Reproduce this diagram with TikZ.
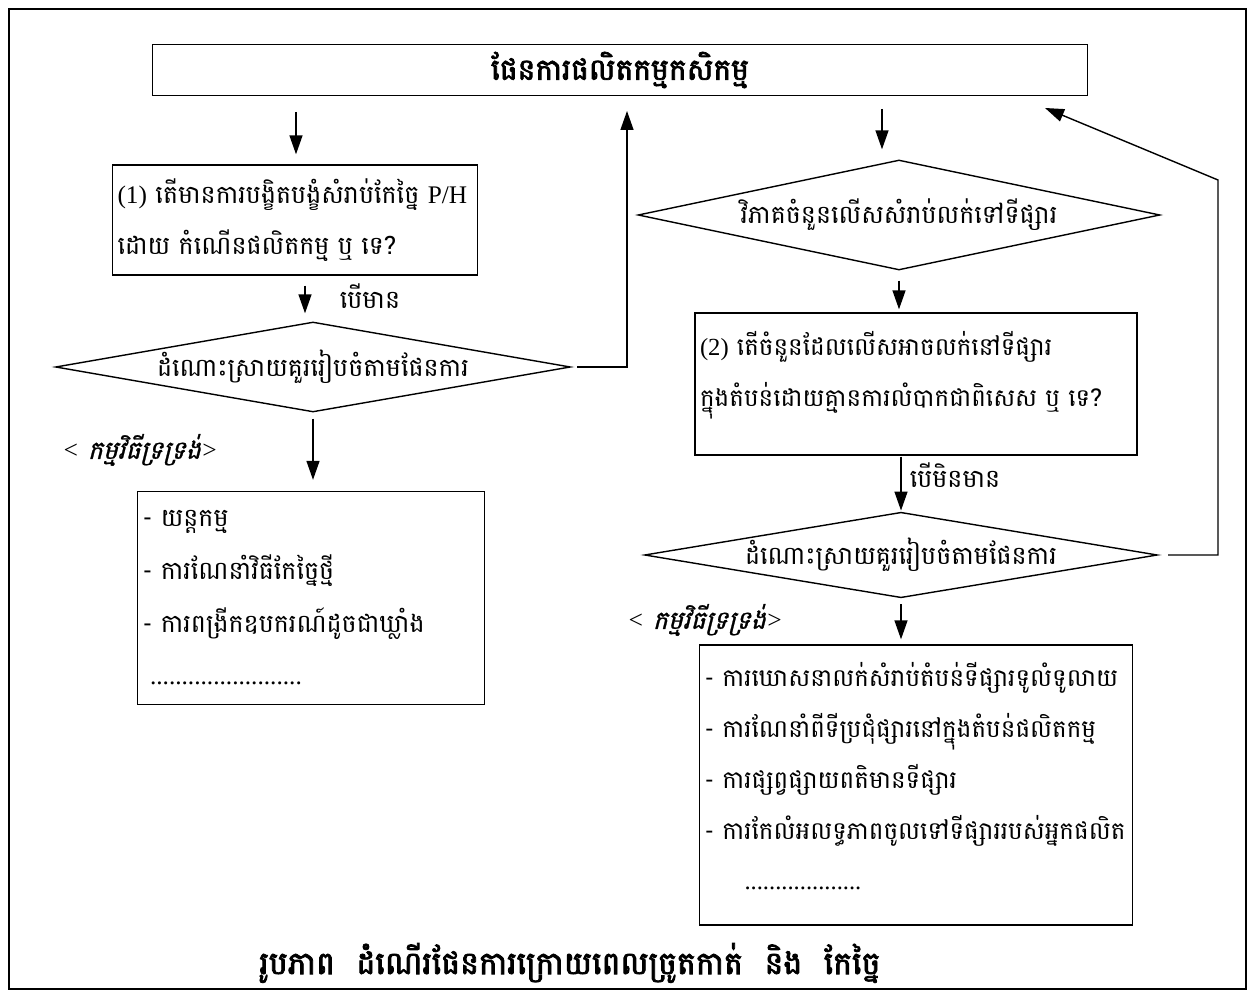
\documentclass[tikz,border=0pt]{standalone}
\usepackage{fontspec}
\setmainfont{Liberation Serif}
\newfontfamily\khmer[Script=Khmer]{Battambang}
\newfontfamily\khmerbf[Script=Khmer,FakeBold=2.5]{Battambang}
\newfontfamily\khmerit[Script=Khmer,FakeSlant=0.25,FakeBold=1]{Battambang}
\usetikzlibrary{shapes.geometric,arrows.meta}

\begin{document}
\begin{tikzpicture}[x=0.02cm,y=-0.02cm,line width=0.8pt,
  titlebox/.style={draw=col_line,rectangle,minimum width=18.7cm,minimum height=1.02cm,
    font=\khmerbf\fontsize{17}{20}\selectfont},
  box/.style={draw=col_line,rectangle,inner xsep=0.1cm,inner ysep=0pt,align=left,
    font=\khmer\fontsize{14}{29}\selectfont},
  dia/.style={draw=col_line,diamond,aspect=6,inner sep=0pt,
    font=\khmer\fontsize{14.4}{17}\selectfont},
  lab/.style={font=\khmer\fontsize{14.4}{17}\selectfont},
  labit/.style={font=\khmerit\fontsize{14.4}{17}\selectfont},
  captxt/.style={font=\khmerbf\fontsize{18}{21}\selectfont},
  arr/.style={draw=col_line,-{Triangle[length=0.38cm,width=0.26cm]}}]
%
\definecolor{col_line}{rgb}{0.0,0.0,0.0}
%
\useasboundingbox (0,0) rectangle (1254,996);
\draw[col_line] (9,9) rectangle (1246,989);
%
% title
\node[titlebox] (t0) at (620,70) {ផែនការផលិតកម្មកសិកម្ម};
%
% left column
\node[box,text width=7.1cm,minimum height=2.2cm,font=\khmer\fontsize{14.4}{29}\selectfont] (b1) at (295,220)
  {{\rmfamily (1)} តើមានការបង្ខិតបង្ខំសំរាប់កែច្នៃ {\rmfamily P/H}\\
   ដោយ កំណើនផលិតកម្ម ឬ ទេ?};
\node[lab] (l1) at (370,296) {បើមាន};
\node[dia,minimum width=10.3cm,minimum height=1.8cm] (d1) at (313,367)
  {ដំណោះស្រាយគួររៀបចំតាមផែនការ};
\node[labit] (l3) at (140,450) {{\rmfamily\itshape <} កម្មវិធីទ្រទ្រង់{\rmfamily\itshape >}};
\node[box,text width=6.74cm,minimum height=4.26cm,
  font=\khmer\fontsize{14.4}{30}\selectfont] (b2) at (311,598)
  {- យន្តកម្ម\\
   - ការណែនាំវិធីកែច្នៃថ្មី\\
   - ការពង្រីកឧបករណ៍ដូចជាឃ្លាំង\\
   {\rmfamily\hspace*{0.15cm}........................}};
%
% right column
\node[dia,minimum width=10.44cm,minimum height=2.2cm] (d2) at (899,215)
  {វិភាគចំនួនលើសសំរាប់លក់ទៅទីផ្សារ};
\node[box,text width=8.64cm,minimum height=2.84cm] (b3) at (916,384)
  {{\rmfamily (2)} តើចំនួនដែលលើសអាចលក់នៅទីផ្សារ\\
   ក្នុងតំបន់ដោយគ្មានការលំបាកជាពិសេស ឬ ទេ?\\[-0.4cm]\mbox{}};
\node[lab] (l2) at (955,475) {បើមិនមាន};
\node[dia,minimum width=10.16cm,minimum height=1.7cm] (d3) at (901,555)
  {ដំណោះស្រាយគួររៀបចំតាមផែនការ};
\node[labit] (l4) at (705,620) {{\rmfamily\itshape <} កម្មវិធីទ្រទ្រង់{\rmfamily\itshape >}};
\node[box,text width=8.46cm,minimum height=5.6cm] (b4) at (916,785)
  {- ការឃោសនាលក់សំរាប់តំបន់ទីផ្សារទូលំទូលាយ\\
   - ការណែនាំពីទីប្រជុំផ្សារនៅក្នុងតំបន់ផលិតកម្ម\\
   - ការផ្សព្វផ្សាយពតិមានទីផ្សារ\\
   - ការកែលំអលទ្ធភាពចូលទៅទីផ្សាររបស់អ្នកផលិត\\
   {\rmfamily\hspace*{0.8cm}...................}\\[-0.66cm]\mbox{}};
%
% caption
\node[captxt] (c0) at (570,963) {រូបភាព\ \ ដំណើរផែនការក្រោយពេលច្រូតកាត់\ \ និង\ \ កែច្នៃ};
%
% connectors
\coordinate (k1) at (627,96);
\coordinate (k2) at (1218,180);
\coordinate (k3) at (1045,108);
\coordinate (k4) at (296,96);
\coordinate (k5) at (882,96);
%
\draw[arr,shorten <=0.32cm,shorten >=0.2cm] (k4) -- (k4 |- b1.north);
\draw[arr,shorten <=0.2cm,shorten >=0.16cm] (b1.south -| 305,0) -- (d1.north -| 305,0);
\draw[arr,shorten <=0.12cm,shorten >=0.22cm] (d1.south) -- (d1.south |- b2.north);
\draw[arr,shorten <=0.12cm,shorten >=0.3cm] (d1.east) -| (k1);
%
\draw[arr,shorten <=0.26cm,shorten >=0.2cm] (k5) -- (k5 |- d2.north);
\draw[arr,shorten <=0.2cm,shorten >=0.06cm] (d2.south) -- (d2.south |- b3.north);
\draw[arr,shorten <=0.02cm,shorten >=0.02cm] (b3.south -| d3.north) -- (d3.north);
\draw[arr,shorten <=0.12cm,shorten >=0.1cm] (d3.south) -- (d3.south |- b4.north);
\draw[col_line,-{Triangle[length=0.38cm,width=0.26cm]},shorten <=0.2cm] (d3.east) -| (k2) -- (k3);
%
\end{tikzpicture}
\end{document}
